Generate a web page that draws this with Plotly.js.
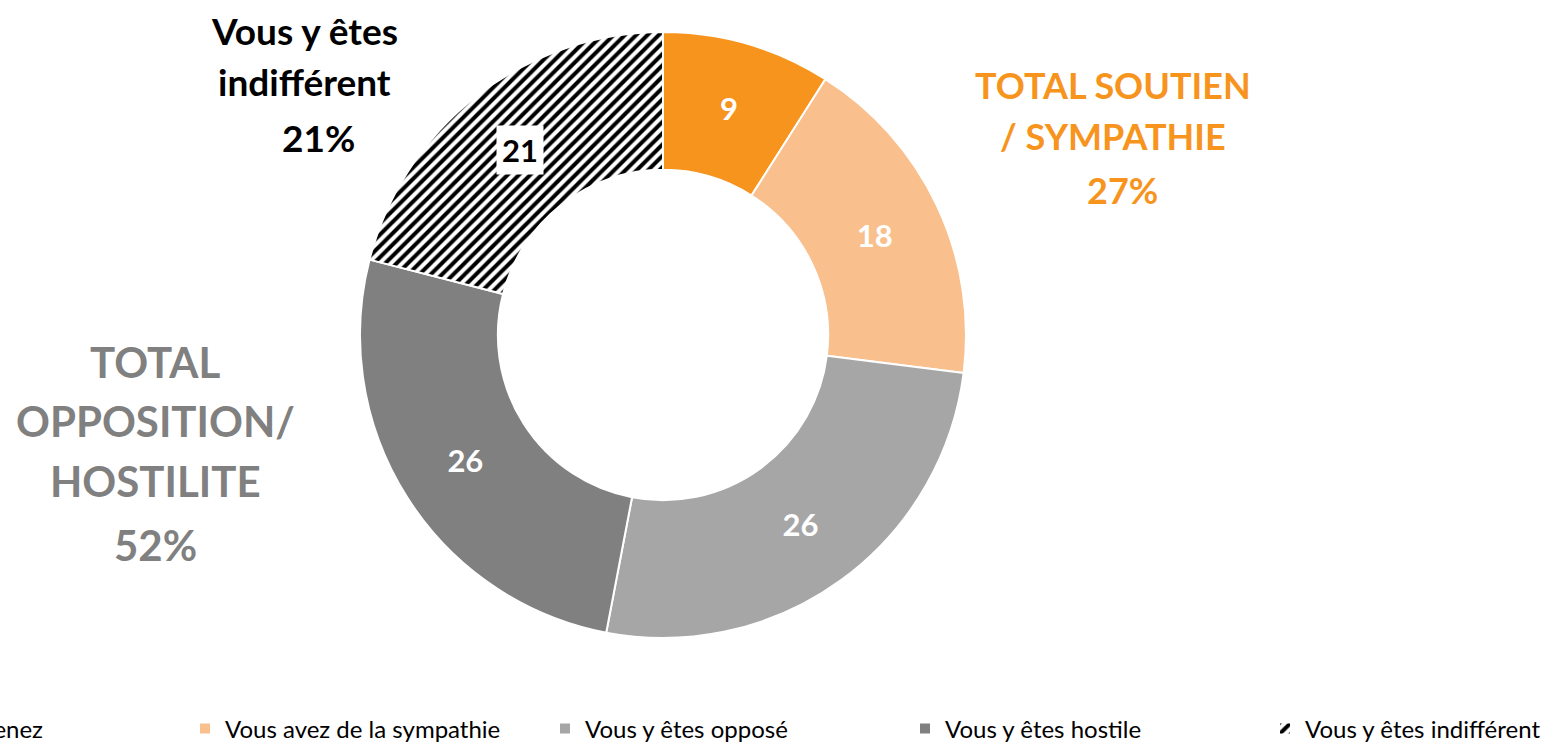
<!DOCTYPE html>
<html>
<head>
<meta charset="utf-8">
<script src="https://cdn.plot.ly/plotly-3.0.1.min.js"></script>
<style>
  html, body { margin: 0; padding: 0; width: 1550px; height: 743px; overflow: hidden; background: #fff; }
  #chart { position: absolute; left: -200px; top: 0; width: 1860px; height: 743px; }
</style>
</head>
<body>
<div id="chart"></div>
<script>
// ---- data ----
const categories = [
  "Vous le soutenez",
  "Vous avez de la sympathie",
  "Vous y êtes opposé",
  "Vous y êtes hostile",
  "Vous y êtes indifférent"
];
const values = [9, 18, 26, 26, 21];
const sliceColors = ["#F7941D", "#F9C08E", "#A6A6A6", "#808080", "#FFFFFF"];
const sliceTextColors = ["#FFFFFF", "#FFFFFF", "#FFFFFF", "#FFFFFF", "#000000"];
const supportIdx = [0, 1];
const oppositionIdx = [2, 3];
const indifferentIdx = [4];

// ---- geometry helpers (page pixels -> paper) ----
const W = 1860, H = 743, OFF = 200;
const px = x => (x + OFF) / W;
const py = y => (H - y) / H;

const cx = 663, cy = 335, R = 303, hole = 0.545;

const total = values.reduce((a, b) => a + b, 0);
const sumOf = idx => idx.reduce((a, i) => a + values[i], 0);

// position of the hatched slice label (ring middle, mid angle)
const before = values.slice(0, 4).reduce((a, b) => a + b, 0);
const midAng = (before + values[4] / 2) / total * 2 * Math.PI;
const rMid = R * (1 + hole) / 2;
const lx = cx + rMid * Math.sin(midAng);
const ly = cy - rMid * Math.cos(midAng);

const texts = values.map((v, i) => i === 4 ? "" : String(v));

const trace = {
  type: "pie",
  labels: categories,
  values: values,
  sort: false,
  direction: "clockwise",
  rotation: 0,
  hole: hole,
  domain: { x: [px(cx - R), px(cx + R)], y: [py(cy + R), py(cy - R)] },
  marker: {
    colors: sliceColors,
    line: { color: "#FFFFFF", width: 2 },
    pattern: {
      shape: ["", "", "", "", "/"],
      fgcolor: "#000000",
      size: 8,
      solidity: 0.5
    }
  },
  text: texts,
  textinfo: "text",
  textposition: "inside",
  insidetextorientation: "horizontal",
  textfont: { family: "Lato, sans-serif", size: 31, weight: 700, color: sliceTextColors },
  hoverinfo: "label+value",
  showlegend: true
};

function lineAnn(text, x, y, size, color) {
  return {
    xref: "paper", yref: "paper", x: px(x), y: py(y),
    xanchor: "center", yanchor: "middle", showarrow: false,
    text: text,
    font: { family: "Lato, sans-serif", size: size, color: color, weight: 700 }
  };
}

const orange = "#F7941D", grey = "#808080";
const annotations = [
  lineAnn("Vous y êtes", 305, 30, 37, "#000000"),
  lineAnn("indifférent", 305, 81, 37, "#000000"),
  lineAnn(sumOf(indifferentIdx) + "%", 318, 137, 37, "#000000"),
  lineAnn("TOTAL SOUTIEN", 1113, 85, 36, orange),
  lineAnn("/ SYMPATHIE", 1113, 136, 36, orange),
  lineAnn(sumOf(supportIdx) + "%", 1122, 190, 36, orange),
  lineAnn("TOTAL", 155, 362, 42, grey),
  lineAnn("OPPOSITION/", 155, 421, 42, grey),
  lineAnn("HOSTILITE", 155, 481, 42, grey),
  lineAnn(sumOf(oppositionIdx) + "%", 155, 545, 42, grey),
  {
    xref: "paper", yref: "paper", x: px(lx), y: py(ly),
    xanchor: "center", yanchor: "middle", showarrow: false,
    text: String(values[4]), bgcolor: "#FFFFFF", borderpad: 5,
    font: { family: "Lato, sans-serif", size: 31, color: "#000000", weight: 700 }
  }
];

const layout = {
  width: W, height: H,
  margin: { l: 0, r: 0, t: 0, b: 0, autoexpand: false },
  paper_bgcolor: "#FFFFFF",
  plot_bgcolor: "#FFFFFF",
  showlegend: true,
  legend: {
    orientation: "h",
    x: px(-175), xanchor: "left",
    y: py(729), yanchor: "middle",
    entrywidth: 315,
    entrywidthmode: "pixels",
    font: { family: "Lato, sans-serif", size: 24, color: "#000000" },
    bgcolor: "rgba(0,0,0,0)",
    traceorder: "normal"
  },
  annotations: annotations
};

Plotly.newPlot("chart", [trace], layout, { displayModeBar: false, staticPlot: true });
</script>
</body>
</html>
